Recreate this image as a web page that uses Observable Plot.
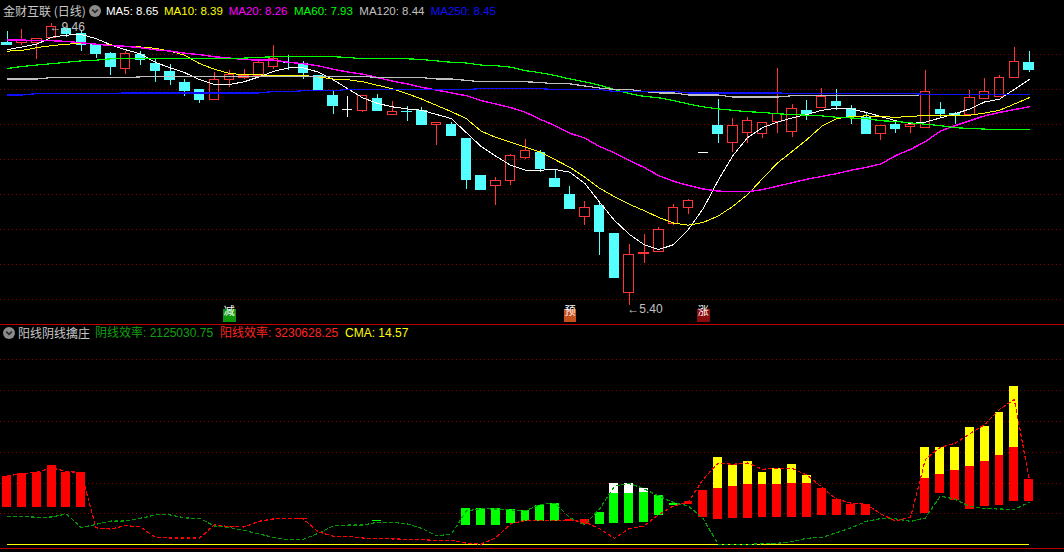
<!DOCTYPE html>
<html>
<head>
<meta charset="utf-8">
<script src="https://cdn.jsdelivr.net/npm/d3@7"></script>
<script src="https://cdn.jsdelivr.net/npm/@observablehq/plot@0.6"></script>
<style>
html,body{margin:0;padding:0;background:#000;}
#wrap{position:relative;width:1064px;height:552px;background:#000;overflow:hidden;}
.t{position:absolute;white-space:nowrap;line-height:14px;font-family:"Liberation Sans",Arial,"Noto Sans CJK SC",sans-serif;}
.icon{position:absolute;width:12px;height:12px;}
#top,#bot{position:absolute;left:0;}
#top{top:0;}
#bot{top:325px;}
.sep{position:absolute;left:0;width:1064px;height:1px;background:#c00000;}
svg{display:block;}
#top svg *, #bot svg *{shape-rendering:crispEdges;}
</style>
</head>
<body>
<div id="wrap">
  <div id="top"></div>
  <div class="sep" style="top:324px"></div>
  <div id="bot"></div>
  <div class="sep" style="top:548px"></div>
  <div id="labels"></div>
</div>
<script>
// ---------------- data ----------------
const stockName = "金财互联 (日线)";
const candleOpen = [9.18,9.17,9.18,9.25,9.38,9.31,9.16,9.03,8.80,9.01,
 8.88,8.77,8.61,8.51,8.36,8.64,8.67,8.71,8.83,8.90,
 8.88,8.71,8.42,8.22,8.20,8.38,8.14,8.20,8.21,8.00,
 8.00,7.81,7.27,7.12,7.19,7.52,7.60,7.23,7.00,6.68,
 6.84,6.44,5.58,6.15,6.17,6.57,6.81,7.60,7.99,7.74,
 7.89,7.87,8.04,7.90,8.21,8.24,8.34,8.23,8.10,7.87,
 8.01,7.97,7.95,8.22,8.16,8.14,8.37,8.40,8.68,8.90];
const candleHigh = [9.34,9.37,9.24,9.46,9.39,9.36,9.16,9.04,9.05,9.05,
 8.94,8.87,8.65,8.51,8.75,8.78,8.80,8.93,9.14,9.00,
 8.91,8.71,8.49,8.41,8.42,8.44,8.34,8.27,8.25,8.03,
 8.04,7.81,7.27,7.25,7.57,7.79,7.63,7.36,7.11,6.90,
 6.90,6.44,6.28,6.43,6.52,6.86,6.93,7.60,8.37,8.09,
 8.10,8.03,8.81,8.29,8.35,8.53,8.51,8.28,8.18,7.99,
 8.07,8.00,8.78,8.32,8.18,8.50,8.67,8.71,9.11,9.06];
const candleLow = [9.14,9.14,8.94,9.25,9.26,9.05,8.95,8.71,8.73,8.85,
 8.61,8.56,8.41,8.31,8.36,8.54,8.65,8.71,8.80,8.78,
 8.65,8.50,8.15,8.11,8.18,8.21,8.14,8.05,8.01,7.71,
 7.85,7.07,7.07,6.84,7.13,7.50,7.32,7.11,6.78,6.56,
 6.13,5.81,5.40,6.01,6.17,6.56,6.71,7.60,7.74,7.61,
 7.74,7.81,7.88,7.82,8.06,8.24,8.21,8.01,7.88,7.78,
 7.88,7.88,7.95,8.11,8.01,8.14,8.37,8.40,8.68,8.76];
const candleClose = [9.16,9.21,9.24,9.41,9.32,9.15,9.03,8.84,9.02,8.94,
 8.78,8.65,8.49,8.37,8.65,8.72,8.70,8.89,8.94,8.89,
 8.76,8.50,8.28,8.22,8.42,8.21,8.19,8.19,8.01,8.03,
 7.85,7.22,7.07,7.20,7.55,7.62,7.37,7.11,6.80,6.80,
 6.47,5.81,6.13,6.16,6.49,6.80,6.90,7.60,7.88,7.99,
 8.06,8.03,8.16,8.23,8.16,8.40,8.28,8.12,7.88,7.99,
 7.95,8.00,8.48,8.17,8.15,8.39,8.48,8.68,8.91,8.80];
const ma5 = [9.08,9.12,9.16,9.26,9.29,9.30,9.24,9.15,9.08,9.02,
 8.90,8.82,8.75,8.65,8.58,8.58,8.62,8.69,8.77,8.82,
 8.82,8.76,8.65,8.52,8.39,8.31,8.26,8.23,8.21,8.15,
 8.09,7.89,7.69,7.55,7.42,7.35,7.35,7.36,7.32,7.16,
 6.89,6.63,6.43,6.28,6.21,6.28,6.50,6.80,7.20,7.56,
 7.82,7.96,8.04,8.10,8.15,8.21,8.24,8.23,8.18,8.12,
 8.06,8.02,8.04,8.10,8.16,8.23,8.33,8.37,8.51,8.65];
const ma10 = [9.06,9.07,9.11,9.14,9.16,9.17,9.16,9.15,9.13,9.12,
 9.10,9.06,9.00,8.88,8.80,8.74,8.72,8.72,8.71,8.71,
 8.71,8.69,8.66,8.65,8.62,8.57,8.52,8.45,8.37,8.28,
 8.19,8.09,7.91,7.82,7.75,7.68,7.61,7.50,7.39,7.25,
 7.09,6.97,6.86,6.77,6.67,6.59,6.56,6.60,6.69,6.83,
 7.00,7.23,7.45,7.62,7.79,7.98,8.09,8.12,8.13,8.12,
 8.11,8.12,8.14,8.14,8.14,8.14,8.17,8.21,8.30,8.39];
const ma20 = [9.22,9.22,9.21,9.21,9.20,9.18,9.16,9.14,9.13,9.11,
 9.08,9.06,9.03,9.01,8.98,8.96,8.94,8.93,8.93,8.90,
 8.88,8.85,8.80,8.76,8.73,8.68,8.63,8.59,8.54,8.50,
 8.46,8.42,8.35,8.30,8.25,8.18,8.08,7.99,7.88,7.81,
 7.69,7.60,7.49,7.39,7.27,7.19,7.13,7.08,7.05,7.04,
 7.04,7.07,7.12,7.17,7.22,7.26,7.30,7.35,7.39,7.44,
 7.56,7.65,7.76,7.91,7.99,8.06,8.13,8.18,8.22,8.26];
const ma60 = [8.81,8.84,8.86,8.88,8.90,8.92,8.93,8.95,8.95,8.95,
 8.95,8.95,8.95,8.95,8.95,8.95,8.96,8.97,8.98,8.98,
 8.98,8.98,8.98,8.97,8.95,8.95,8.95,8.95,8.94,8.92,
 8.90,8.89,8.86,8.85,8.83,8.78,8.75,8.71,8.66,8.62,
 8.57,8.51,8.45,8.41,8.39,8.35,8.30,8.26,8.23,8.21,
 8.19,8.18,8.16,8.15,8.14,8.13,8.11,8.10,8.09,8.06,
 8.05,8.03,8.01,7.99,7.96,7.95,7.94,7.93,7.93,7.93];
const ma120 = [8.66,8.66,8.66,8.68,8.68,8.68,8.68,8.68,8.68,8.69,
 8.69,8.69,8.69,8.69,8.69,8.70,8.70,8.70,8.70,8.70,
 8.70,8.70,8.70,8.70,8.70,8.68,8.68,8.68,8.68,8.66,
 8.66,8.64,8.62,8.62,8.62,8.62,8.61,8.59,8.59,8.56,
 8.53,8.51,8.51,8.48,8.46,8.46,8.43,8.43,8.43,8.40,
 8.40,8.40,8.40,8.42,8.42,8.42,8.42,8.42,8.42,8.42,
 8.42,8.42,8.44,8.44,8.44,8.44,8.44,8.44,8.44,8.44];
const ma250 = [8.43,8.43,8.45,8.45,8.45,8.45,8.45,8.45,8.46,8.46,
 8.46,8.46,8.46,8.46,8.46,8.46,8.46,8.46,8.48,8.48,
 8.49,8.49,8.49,8.51,8.51,8.51,8.51,8.51,8.51,8.51,
 8.51,8.51,8.52,8.52,8.52,8.52,8.52,8.51,8.51,8.51,
 8.51,8.48,8.48,8.48,8.48,8.48,8.46,8.46,8.46,8.46,
 8.46,8.46,8.46,8.45,8.45,8.45,8.45,8.45,8.45,8.45,
 8.45,8.45,8.44,8.44,8.44,8.44,8.44,8.44,8.44,8.44];
const maLabelValues = [8.65, 8.39, 8.26, 7.93, 8.44, 8.45];
const priceGrid = [9.01, 8.51, 8.01, 7.50, 7.00, 6.50, 5.99, 5.49];
const signalIndex = [15, 38, 47];
const signalText = ["减", "预", "涨"];

// lower panel (values in millions)
const indicatorName = "阳线阴线擒庄";
const yinLabel = "阴线效率: 2125030.75";
const yangLabel = "阳线效率: 3230628.25";
const cmaLabel = "CMA: 14.57";
const lowerGrid = [1, 2, 3, 4, 5, 6];
const barIndex = [0,1,2,3,4,5,20,25,31,32,33,34,35,36,37,38,39,40,41,42,43,44,45,46,47,48,49,50,51,52,53,54,55,56,57,58,62,63,64,65,66,67,68,69];
const barKind = ["up","up","up","up","up","up","up","down","down","down","down","down","down","down","down","up","up","down","down","down","down","down","down","up","up","up","up","up","up","up","up","up","up","up","up","up","up","up","up","up","up","up","up","up"];
const barLow = [1.20,1.20,1.20,1.20,1.20,1.20,0.81,0.74,0.61,0.61,0.61,0.68,0.77,0.77,0.77,0.75,0.65,0.65,0.68,0.68,0.71,0.94,1.26,1.32,0.87,0.81,0.84,0.84,0.87,0.87,0.90,0.90,0.94,0.94,0.94,0.94,1.00,1.65,1.45,1.16,1.23,1.29,1.39,1.42];
const barMid = [2.23,2.32,2.35,2.58,2.35,2.35,0.86,0.79,1.19,1.19,1.19,1.16,1.10,1.29,1.35,0.81,0.81,1.06,1.65,1.68,1.71,1.61,1.35,1.39,1.77,1.84,1.90,1.94,1.97,1.97,2.00,2.00,1.81,1.48,1.32,1.32,2.16,2.29,2.42,2.55,2.71,2.90,3.16,2.13];
const barTop = [2.23,2.32,2.35,2.58,2.35,2.35,0.86,0.79,1.19,1.19,1.19,1.16,1.10,1.29,1.35,0.81,0.81,1.06,2.00,2.00,1.81,1.61,1.35,1.39,1.77,2.84,2.58,2.71,2.35,2.48,2.61,2.26,1.81,1.48,1.32,1.32,3.16,3.16,3.16,3.81,3.84,4.29,5.13,2.13];
const redLine = [2.23,2.31,2.35,2.50,2.37,2.35,0.55,0.51,0.62,0.58,
 0.24,0.22,0.22,0.22,0.65,0.59,0.58,0.76,0.84,0.86,
 0.84,0.42,0.28,0.27,0.22,0.21,0.19,0.18,0.16,0.15,
 0.15,0.05,0.02,0.23,0.68,0.79,0.80,0.80,0.80,0.74,
 0.52,0.21,0.53,0.61,0.98,1.26,1.39,2.13,2.65,2.61,
 2.65,2.45,2.48,2.48,2.26,1.87,1.48,1.35,1.32,1.00,
 0.77,0.90,2.77,3.16,3.29,3.60,3.90,4.39,4.71,2.16];
const greenLine = [0.93,0.93,0.89,0.90,1.00,0.56,0.66,0.77,0.77,0.86,
 0.97,0.97,0.87,0.86,0.61,0.56,0.47,0.35,0.24,0.16,
 0.18,0.37,0.61,0.64,0.64,0.73,0.73,0.68,0.53,0.29,
 0.35,1.10,1.17,1.16,1.13,1.10,1.31,1.35,0.87,0.66,
 1.16,1.90,1.99,1.82,1.58,1.37,1.26,0.84,0.02,0.02,
 0.02,0.03,0.05,0.10,0.21,0.24,0.39,0.55,0.76,0.85,
 0.84,0.76,0.87,1.58,1.48,1.24,1.18,1.16,1.15,1.37];

// ---------------- styles ----------------
const RED = "#ff3434", CYAN = "#54ffff", DOT = "#8c0000";
const maColors = ["#ffffff", "#ffff00", "#ff00ff", "#00ff00", "#c0c0c0", "#1010ff"];
const maWidths = [1, 1, 1.4, 1.2, 1.2, 1.2];
const maNames = ["MA5", "MA10", "MA20", "MA60", "MA120", "MA250"];
const maSeries = [ma5, ma10, ma20, ma60, ma120, ma250];
const signalColors = ["#0a960a", "#c4501c", "#8a0c0c"];

const N = candleClose.length;
const idx = d3.range(N);
const candles = idx.map(i => ({i, o: candleOpen[i], h: candleHigh[i], l: candleLow[i], c: candleClose[i]}));
const colorOf = d => d.c > d.o ? RED : d.c < d.o ? CYAN : "#ffffff";
const xScale = {type: "linear", domain: [-0.45, 71.39], range: [0, 1064], axis: null};
const hw = 0.35;

const hiIdx = d3.maxIndex(candleHigh), loIdx = d3.minIndex(candleLow);
const signals = signalIndex.map((i, k) => ({i, t: signalText[k], bg: signalColors[k]}));

const topPlot = Plot.plot({
  width: 1064, height: 324,
  marginTop: 0, marginBottom: 0, marginLeft: 0, marginRight: 0,
  style: {background: "#000", overflow: "visible"},
  x: xScale,
  y: {domain: [5.40, 9.46], range: [305.4, 22.8], axis: null},
  color: {type: "identity"},
  marks: [
    Plot.ruleY(priceGrid, {stroke: DOT, strokeDasharray: "1,3"}),
    Plot.ruleX(candles, {x: "i", y1: d => Math.max(d.o, d.c), y2: "h", stroke: colorOf}),
    Plot.ruleX(candles, {x: "i", y1: "l", y2: d => Math.min(d.o, d.c), stroke: colorOf}),
    Plot.rect(candles.filter(d => d.c < d.o), {x1: d => d.i - hw, x2: d => d.i + hw, y1: "o", y2: "c", fill: CYAN}),
    Plot.rect(candles.filter(d => d.c > d.o), {x1: d => d.i - hw + 0.03, x2: d => d.i + hw - 0.03, y1: "o", y2: "c", fill: "none", stroke: RED}),
    Plot.ruleY(candles.filter(d => d.c <= d.o), {y: "c", x1: d => d.i - hw, x2: d => d.i + hw, stroke: colorOf}),
    Plot.ruleY(candles.filter(d => d.c <= d.o), {y: "o", x1: d => d.i - hw, x2: d => d.i + hw, stroke: colorOf}),
    ...maSeries.map((s, k) => Plot.line(idx, {x: d => d, y: d => s[d], stroke: maColors[k], strokeWidth: maWidths[k]})),
    Plot.text([hiIdx], {x: d => d, y: d => candleHigh[d], text: d => "←" + candleHigh[d].toFixed(2), textAnchor: "start", dx: -2, dy: 4, fill: "#c0c0c0", fontSize: 12, fontFamily: "Liberation Sans, DejaVu Sans"}),
    Plot.text([loIdx], {x: d => d, y: d => candleLow[d], text: d => "←" + candleLow[d].toFixed(2), textAnchor: "start", dx: -2, dy: 3, fill: "#c0c0c0", fontSize: 12, fontFamily: "Liberation Sans, DejaVu Sans"}),
    Plot.dot(signals, {x: "i", frameAnchor: "bottom", dy: -9.3, r: 7.2, symbol: "square", fill: "bg", stroke: null}),
    Plot.text(signals, {x: "i", frameAnchor: "bottom", dy: -9.3, text: "t", fill: "#ffffff", fontSize: 11, fontFamily: "Noto Sans CJK SC"})
  ]
});
document.getElementById("top").appendChild(topPlot);

const bars = barIndex.map((i, k) => ({i, kind: barKind[k], lo: barLow[k], mid: barMid[k], top: barTop[k]}));
const botPlot = Plot.plot({
  width: 1064, height: 227,
  marginTop: 0, marginBottom: 0, marginLeft: 0, marginRight: 0,
  style: {background: "#000", overflow: "visible"},
  x: xScale,
  y: {domain: [0, 6], range: [219.3, 34.3], axis: null},
  color: {type: "identity"},
  marks: [
    Plot.ruleY(lowerGrid, {stroke: DOT, strokeDasharray: "1,3"}),
    Plot.ruleY([0], {x1: 0, x2: N - 1, stroke: "#ffff00"}),
    Plot.rect(bars, {x1: d => d.i - 0.3, x2: d => d.i + 0.3, y1: "lo", y2: "mid", fill: d => d.kind === "up" ? "#ff0000" : "#00ff00"}),
    Plot.rect(bars.filter(d => d.top > d.mid), {x1: d => d.i - 0.3, x2: d => d.i + 0.3, y1: "mid", y2: "top", fill: d => d.kind === "up" ? "#ffff00" : "#ffffff"}),
    Plot.line(idx, {x: d => d, y: d => greenLine[d], stroke: "#009a00", strokeWidth: 1.2, strokeDasharray: "3,3"}),
    Plot.line(idx, {x: d => d, y: d => redLine[d], stroke: "#ff0000", strokeWidth: 1.2, strokeDasharray: "3,3"})
  ]
});
document.getElementById("bot").appendChild(botPlot);

// ---------------- header texts ----------------
const labels = document.getElementById("labels");
function addText(txt, left, top, color, size, family) {
  const el = document.createElement("div");
  el.className = "t";
  el.textContent = txt;
  el.style.left = left + "px";
  el.style.top = top + "px";
  el.style.color = color;
  el.style.fontSize = size + "px";
  if (family) el.style.fontFamily = family;
  labels.appendChild(el);
}
function addIcon(left, top) {
  const ns = "http://www.w3.org/2000/svg";
  const s = document.createElementNS(ns, "svg");
  s.setAttribute("width", 12); s.setAttribute("height", 12);
  s.setAttribute("class", "icon");
  s.style.left = left + "px"; s.style.top = top + "px";
  s.innerHTML = '<circle cx="6" cy="6" r="6" fill="#8c8c8c"/><path d="M3.2 4.6 L6 7.4 L8.8 4.6" stroke="#2a2a2a" stroke-width="1.6" fill="none"/>';
  labels.appendChild(s);
}
addText(stockName, 3, 4, "#c8c8c8", 12, '"Noto Sans CJK SC", sans-serif');
addIcon(89, 5);
const maLeft = [106, 164, 228.7, 294, 359.3, 430.7];
maNames.forEach((n, k) => addText(n + ": " + maLabelValues[k].toFixed(2), maLeft[k], 4, maColors[k], 11.5));

addIcon(3, 327);
addText(indicatorName, 18, 326, "#c8c8c8", 12, '"Noto Sans CJK SC", sans-serif');
addText(yinLabel, 95, 326, "#12a012", 12, '"Liberation Sans", "Noto Sans CJK SC", sans-serif');
addText(yangLabel, 220, 326, "#ff2424", 12, '"Liberation Sans", "Noto Sans CJK SC", sans-serif');
addText(cmaLabel, 345, 326, "#ffff00", 12);
</script>
</body>
</html>
